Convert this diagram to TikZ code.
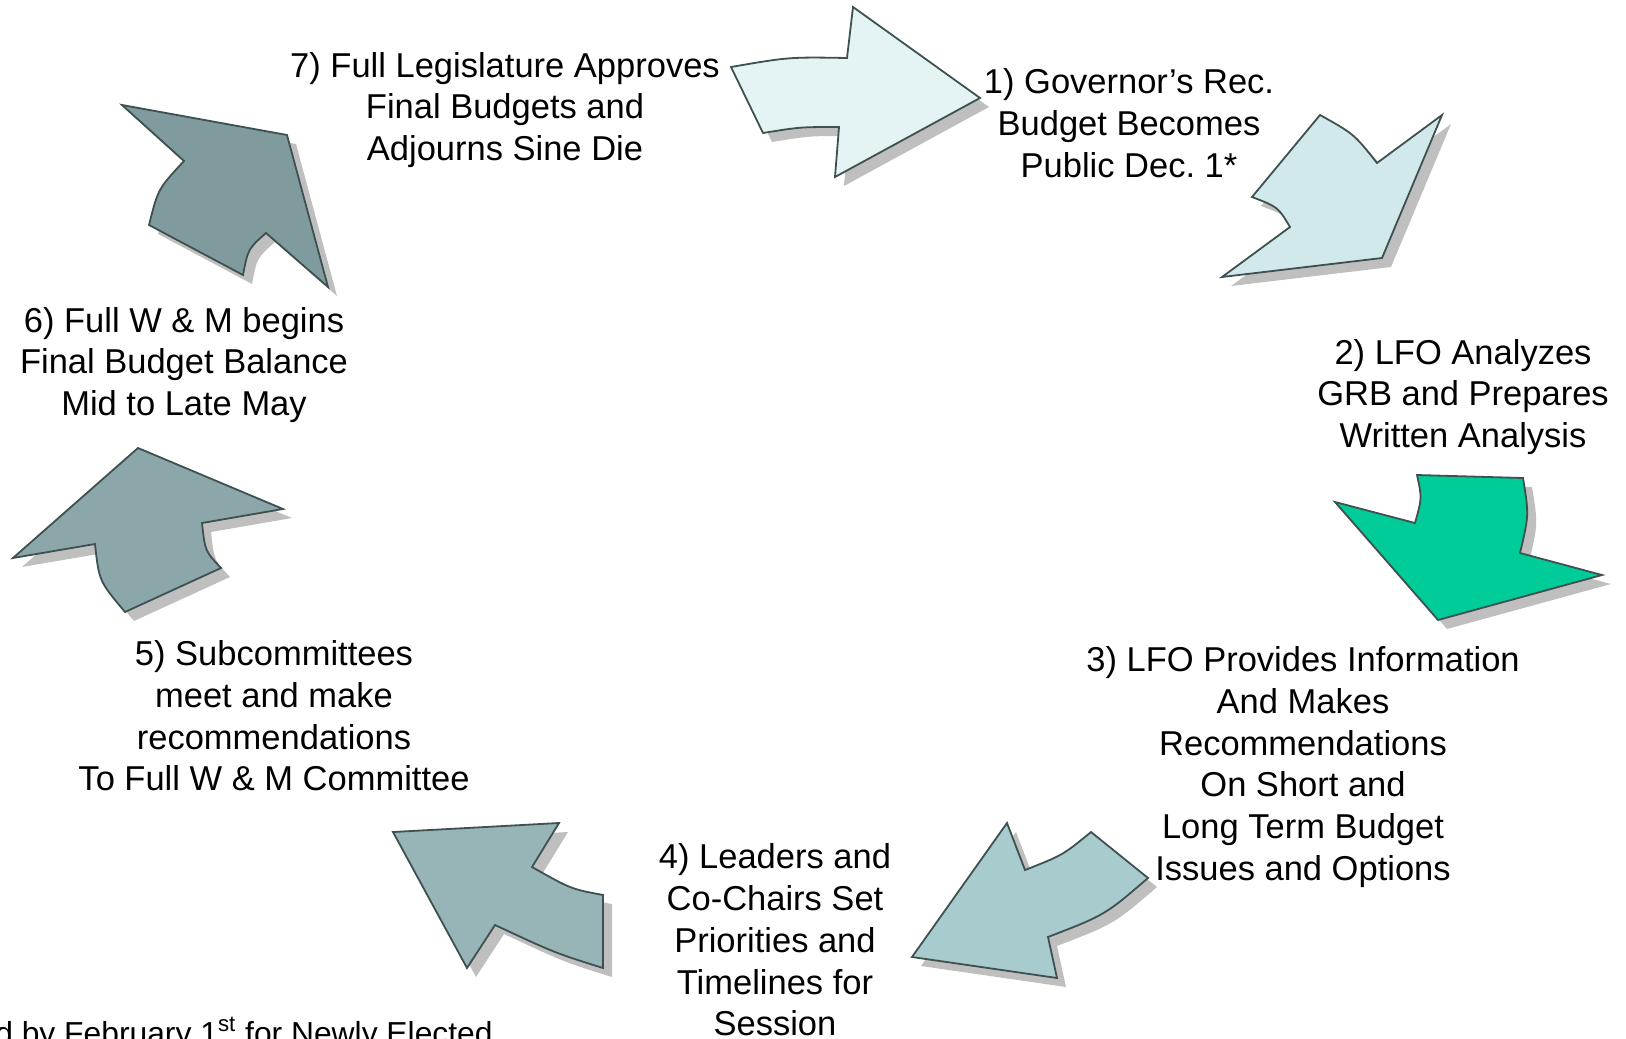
\documentclass[tikz,border=0pt]{standalone}
\usepackage{fontspec}
\setmainfont{Liberation Sans}
\usetikzlibrary{shadows}

\definecolor{rim}{HTML}{3F5050}
\definecolor{stepone}{HTML}{E4F4F4}
\definecolor{steptwo}{HTML}{D2E9EB}
\definecolor{stepthree}{HTML}{00CC99}
\definecolor{stepfour}{HTML}{A8CBCE}
\definecolor{stepfive}{HTML}{97B4B6}
\definecolor{stepsix}{HTML}{8CA7A9}
\definecolor{stepseven}{HTML}{809B9D}

\begin{document}
\begin{tikzpicture}[
    x=0.5pt, y=-0.5pt,      % pixel coordinates, y downward
    line join=miter,
    cyclearrow/.style={draw=rim, line width=0.9pt,
      drop shadow={shadow xshift=4.5pt, shadow yshift=-4.5pt}},
    steptext/.style={align=center, inner sep=0pt,
      font=\fontsize{17.25}{20.85}\selectfont}
  ]
  \useasboundingbox (0,0) rectangle (1626,1038);

  % --- SETAS DO CICLO ---
  \draw[cyclearrow, fill=stepone] (731,67) .. controls (789,57) .. (847,58)
    -- (853,7) -- (980,98) -- (835,177) -- (839,127)
    .. controls (800,127) .. (763,133) -- cycle;

  \draw[cyclearrow, fill=steptwo] (1320,115) .. controls (1354,134) .. (1377,163)
    -- (1442,115) -- (1382,258) -- (1222,277) -- (1290,227)
    .. controls (1278,207) .. (1252,197) -- cycle;

  \draw[cyclearrow, fill=stepthree] (1417,475) -- (1523,478)
    .. controls (1529,515) .. (1520,553) -- (1602,575) -- (1438,620)
    -- (1335,502) -- (1415,523) .. controls (1422,498) .. (1417,475) -- cycle;

  \draw[cyclearrow, fill=stepfour] (1091,832) -- (1148,878)
    .. controls (1105,915) .. (1048,937) -- (1057,978) -- (912,957)
    -- (1007,823) -- (1025,870) .. controls (1063,855) .. (1091,832) -- cycle;

  \draw[cyclearrow, fill=stepfive] (393,832) -- (559,823) -- (532,867)
    .. controls (571,889) .. (603,895) -- (603,968)
    .. controls (555,953) .. (495,925) -- (467,968) -- cycle;

  \draw[cyclearrow, fill=stepsix] (13,558) -- (138,448) -- (283,509) -- (202,523)
    .. controls (205,551) .. (221,568) -- (125,612)
    .. controls (99,581) .. (95,544) -- cycle;

  \draw[cyclearrow, fill=stepseven] (122,105) -- (287,135) -- (328,287) -- (266,233)
    .. controls (248,249) .. (243,275) -- (149,225)
    .. controls (158,189) .. (184,161) -- cycle;

  % --- TEXTOS DAS ETAPAS ---
  \node[steptext] (t1) at (1129,123) {1) Governor’s Rec.\\Budget Becomes\\Public Dec.\ 1*};
  \node[steptext] (t2) at (1463,397) {2) LFO Analyzes\\GRB and Prepares\\Written Analysis};
  \node[steptext] (t3) at (1303,767) {3) LFO Provides Information\\And Makes\\Recommendations\\On Short and\\Long Term Budget\\Issues and Options};
  \node[steptext] (t4) at (775,940) {4) Leaders and\\Co-Chairs Set\\Priorities and\\Timelines for\\Session};
  \node[steptext] (t5) at (274,716) {5) Subcommittees\\meet and make\\recommendations\\To Full W \& M Committee};
  \node[steptext] (t6) at (184,365) {6) Full W \& M begins\\Final Budget Balance\\Mid to Late May};
  \node[steptext] (t7) at (505,110) {7) Full Legislature Approves\\Final Budgets and\\Adjourns Sine Die};

  % nota de rodapé (cortada)
  \node[steptext, anchor=base east, font=\fontsize{15.9}{19}\selectfont] (note) at (493,1044)
    {d by February 1\textsuperscript{st} for Newly Elected};

\end{tikzpicture}
\end{document}
